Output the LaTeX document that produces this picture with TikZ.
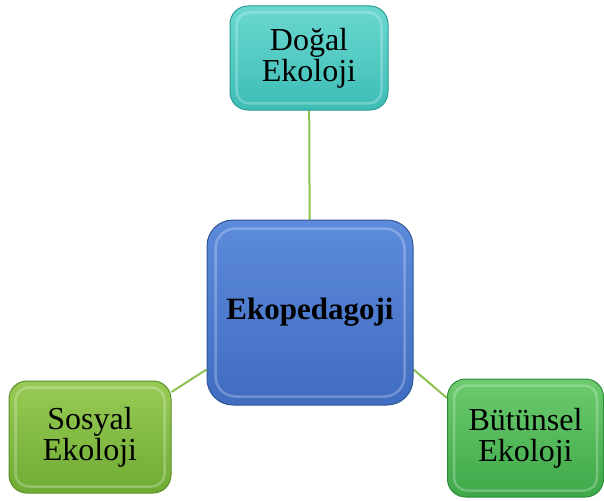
\documentclass[tikz,border=0pt]{standalone}
\usepackage{fontspec}
\setmainfont{Liberation Serif}
\usetikzlibrary{backgrounds}
\definecolor{linkgreen}{HTML}{8CC152}
\definecolor{bluetop}{HTML}{5D8BDB}
\definecolor{bluebot}{HTML}{3F6CC0}
\definecolor{blueedge}{HTML}{2F5597}
\definecolor{tealtop}{HTML}{6AD8D0}
\definecolor{tealbot}{HTML}{3DBDB5}
\definecolor{tealedge}{HTML}{2A9A93}
\definecolor{limetop}{HTML}{98CB55}
\definecolor{limebot}{HTML}{6FAB33}
\definecolor{limeedge}{HTML}{5A8F28}
\definecolor{grtop}{HTML}{6CCB6E}
\definecolor{grbot}{HTML}{3EA849}
\definecolor{gredge}{HTML}{2E8B3A}
\tikzset{
  box/.style={rounded corners=#1, align=center, inner sep=0pt,
    font=\fontsize{32}{31}\selectfont, line width=1pt},
  link/.style={draw=linkgreen, line width=2pt},
  bevel/.style={draw=white, draw opacity=0.25, line width=2.5pt, rounded corners=#1}
}
\begin{document}
\begin{tikzpicture}[x=1pt,y=-1pt]
\useasboundingbox (0,0) rectangle (604,500);
% central
\node[box=26pt, draw=blueedge, top color=bluetop, bottom color=bluebot,
  minimum width=206pt, minimum height=185pt, font=\fontsize{31}{31}\selectfont\bfseries]
  (c) at (310,312.5) {Ekopedagoji};
\draw[bevel=20pt] ([shift={(9,9)}]c.north west) rectangle ([shift={(-9,-9)}]c.south east);
% top
\node[box=18pt, draw=tealedge, top color=tealtop, bottom color=tealbot,
  minimum width=158pt, minimum height=104pt] (t) at (309,58) {Doğal\\Ekoloji};
\draw[bevel=13pt] ([shift={(7,7)}]t.north west) rectangle ([shift={(-7,-7)}]t.south east);
% left
\node[box=18pt, draw=limeedge, top color=limetop, bottom color=limebot,
  minimum width=162pt, minimum height=112pt] (l) at (90,437) {Sosyal\\Ekoloji};
\draw[bevel=13pt] ([shift={(7,7)}]l.north west) rectangle ([shift={(-7,-7)}]l.south east);
% right
\node[box=18pt, draw=gredge, top color=grtop, bottom color=grbot,
  minimum width=156pt, minimum height=118pt] (r) at (525.5,438) {Bütünsel\\Ekoloji};
\draw[bevel=13pt] ([shift={(7,7)}]r.north west) rectangle ([shift={(-7,-7)}]r.south east);
\begin{scope}[on background layer]
\draw[link] (t.center) -- (c.center);
\draw[link] ([yshift=45pt]l.east) -- ([yshift=-57pt]c.west);
\draw[link] ([yshift=40pt]r.west) -- ([yshift=-57pt]c.east);
\end{scope}
\end{tikzpicture}
\end{document}
